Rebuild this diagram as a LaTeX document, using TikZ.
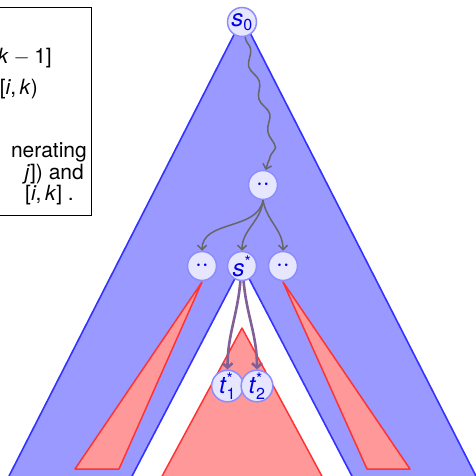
\documentclass[tikz,border=0pt]{standalone}
\usepackage{fontspec}
\setmainfont{TeX Gyre Heros}
\usetikzlibrary{decorations.pathmorphing,arrows.meta}
\definecolor{bfill}{RGB}{153,153,255}
\definecolor{bline}{RGB}{51,51,255}
\definecolor{rfill}{RGB}{255,153,153}
\definecolor{rline}{RGB}{255,51,51}
\definecolor{nfill}{RGB}{230,230,255}
\definecolor{nline}{RGB}{140,140,255}
\definecolor{ntext}{RGB}{0,0,230}
\definecolor{garrow}{RGB}{102,102,102}
\definecolor{parrow}{RGB}{128,96,150}
\newcommand\smallfs[1]{\hbox{\fontsize{16}{16}\selectfont #1}}
\begin{document}
\begin{tikzpicture}[x=1pt,y=-1pt,
  vnode/.style={circle,draw=nline,fill=nfill,line width=1.5pt,minimum size=29pt,inner sep=0pt,text=ntext,font=\fontsize{24}{24}\selectfont},
  gar/.style={draw=garrow,line width=1.5pt,-{Straight Barb[length=4.5pt,width=9pt]}},
  par/.style={draw=parrow,line width=2.6pt,-{Straight Barb[length=4.5pt,width=10pt]}},
  redtri/.style={fill=rfill,draw=rline,line width=1.5pt,line join=round},
  boxtext/.style={font=\fontsize{21}{21}\selectfont,inner sep=0pt,anchor=base east}
]
\useasboundingbox (0,0) rectangle (476,476);
\clip (0,0) rectangle (476,476);
% blue region
\fill[bfill,even odd rule] (242.5,18) -- (7,480) -- (478,480) -- cycle
  (242,265) -- (130,480) -- (354,480) -- cycle;
\draw[bline,line width=1.6pt] (7,480) -- (242.5,18) -- (478,480);
\draw[bline,line width=1.6pt] (130,480) -- (242,265) -- (354,480);
% red triangles
\draw[redtri] (202,282) -- (75,469) -- (119,469) -- cycle;
\draw[redtri] (283,282) -- (367,469) -- (410,469) -- cycle;
\draw[redtri] (242,328) -- (160,480) -- (324,480) -- cycle;
% nodes
\node[vnode] (s0) at (242,22) {\textit{s}$_{\smallfs{0}}$};
\node[vnode] (m) at (263,185) {${\cdot}{\cdot}$};
\node[vnode] (l) at (202,266) {${\cdot}{\cdot}$};
\node[vnode] (ss) at (242,266) {\textit{s}$^{\smallfs{*}}$};
\node[vnode] (r) at (283,266) {${\cdot}{\cdot}$};
\node[vnode] (t1) at (227.5,386) {\textit{t}$_{\smallfs{1}}^{\smallfs{*}}$};
\node[vnode] (t2) at (257,386) {\textit{t}$_{\smallfs{2}}^{\smallfs{*}}$};
% connectors
\draw[gar,decorate,decoration={snake,amplitude=3pt,segment length=34pt,pre length=2pt,post length=8pt}]
  (s0.-78) .. controls (255,90) and (282,125) .. (m.80);
\draw[gar] (m.south) to[out=-100,in=90] (l.north);
\draw[gar] (m.south) to[out=-95,in=90] (ss.north);
\draw[gar] (m.south) to[out=-80,in=90] (r.north);
\draw[par] (ss.-96) to[out=-95,in=90] (t1.north);
\draw[par] (ss.-84) to[out=-85,in=90] (t2.north);
% text box
\draw[black,line width=0.8pt,fill=white] (-5,7) rectangle (91,215);
\node[boxtext] at (52,64) {\textit{k}\hspace{.22em}$-$\hspace{.22em}1]};
\node[boxtext] at (38,95) {[\textit{i},\,\textit{k})};
\node[boxtext] at (87,157) {nerating};
\node[boxtext] at (84,179) {\textit{j}]) and};
\node[boxtext] at (74,200) {[\textit{i},\,\textit{k}]\ .};
\end{tikzpicture}
\end{document}
